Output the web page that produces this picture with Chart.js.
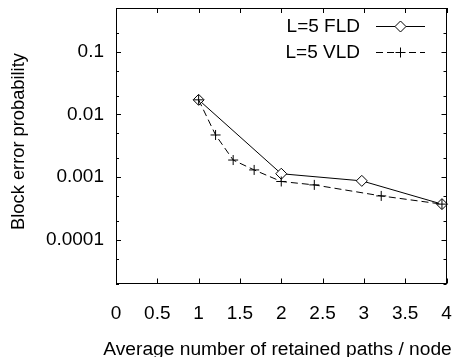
<!DOCTYPE html>
<html>
<head>
<meta charset="utf-8">
<script src="https://cdn.jsdelivr.net/npm/chart.js@4.4.1/dist/chart.umd.min.js"></script>
<style>
html,body{margin:0;padding:0;background:#fff;}
#wrap{width:453px;height:357px;position:relative;}
</style>
</head>
<body>
<div id="wrap"><canvas id="c" width="453" height="357"></canvas></div>
<script>
// ---- data ----
const fldX = [1.0, 2.0, 2.975, 3.945];
const fldY = [0.0171, 0.00113, 0.00087, 0.00037];
const vldX = [1.0, 1.205, 1.418, 1.672, 2.0, 2.40, 3.21, 3.945];
const vldY = [0.0171, 0.0047, 0.00187, 0.0013, 0.00085, 0.00075, 0.0005, 0.00037];
const seriesNames = ["L=5 FLD", "L=5 VLD"];
const xTickValues = [0, 0.5, 1, 1.5, 2, 2.5, 3, 3.5, 4];
const yTickValues = [0.0001, 0.001, 0.01, 0.1];
const yTickLabels = ["0.0001", "0.001", "0.01", "0.1"];
const yMinorTicks = [2e-5, 5e-5, 2e-4, 5e-4, 2e-3, 5e-3, 2e-2, 5e-2, 0.2, 0.5];
const xTitle = "Average number of retained paths / node";
const yTitle = "Block error probability";

const FONT = "'Liberation Sans', Arial, sans-serif";
const FS = 19;

const toPts = (xs, ys) => xs.map((x, i) => ({x: x, y: ys[i]}));

const framePlugin = {
  id: 'frame',
  afterDatasetsDraw(chart) {
    const ctx = chart.ctx, a = chart.chartArea;
    const xs = chart.scales.x, ys = chart.scales.y;
    ctx.save();
    ctx.strokeStyle = '#000';
    ctx.lineWidth = 1;
    ctx.strokeRect(Math.round(a.left) + 0.5, Math.round(a.top) + 0.5,
                   Math.round(a.right - a.left) - 1, Math.round(a.bottom - a.top) - 1);
    ctx.beginPath();
    xTickValues.forEach(v => {
      const px = Math.round(xs.getPixelForValue(v)) + 0.5;
      ctx.moveTo(px, a.bottom); ctx.lineTo(px, a.bottom - 5);
      ctx.moveTo(px, a.top); ctx.lineTo(px, a.top + 5);
    });
    yTickValues.forEach(v => {
      const py = Math.round(ys.getPixelForValue(v)) + 0.5;
      ctx.moveTo(a.left, py); ctx.lineTo(a.left + 5, py);
      ctx.moveTo(a.right, py); ctx.lineTo(a.right - 5, py);
    });
    yMinorTicks.forEach(v => {
      const py = Math.round(ys.getPixelForValue(v)) + 0.5;
      ctx.moveTo(a.left, py); ctx.lineTo(a.left + 3, py);
      ctx.moveTo(a.right, py); ctx.lineTo(a.right - 3, py);
    });
    ctx.stroke();

    // legend
    ctx.font = FS + 'px ' + FONT;
    ctx.textAlign = 'right';
    ctx.textBaseline = 'middle';
    const rows = [26, 52];
    chart.data.datasets.forEach((ds, i) => {
      const y = rows[i];
      ctx.fillStyle = '#000';
      ctx.fillText(ds.label, 360, y + 1);
      ctx.beginPath();
      ctx.setLineDash(ds.borderDash || []);
      ctx.moveTo(376, y + 0.5); ctx.lineTo(425, y + 0.5);
      ctx.stroke();
      ctx.setLineDash([]);
      ctx.fillStyle = ds.pointBackgroundColor;
      Chart.helpers.drawPoint(ctx, {pointStyle: ds.pointStyle, radius: ds.pointRadius, borderWidth: 1, rotation: 0}, 400.5, y + 0.5);
    });

    // axis titles
    ctx.fillStyle = '#000';
    ctx.textAlign = 'center';
    ctx.textBaseline = 'alphabetic';
    ctx.font = '19.2px ' + FONT;
    ctx.fillText(xTitle, 277.5, 354.5);
    ctx.translate(24, 141.5);
    ctx.rotate(-Math.PI / 2);
    ctx.font = '18.3px ' + FONT;
    ctx.fillText(yTitle, 0, 0);
    ctx.restore();
  }
};

new Chart(document.getElementById('c'), {
  type: 'scatter',
  data: {
    datasets: [
      {
        label: seriesNames[0],
        data: toPts(fldX, fldY),
        order: 2,
        showLine: true,
        borderColor: '#000',
        backgroundColor: '#fff',
        pointBackgroundColor: '#fff',
        borderWidth: 1,
        pointStyle: 'rectRot',
        pointRadius: 5.5,
        pointBorderWidth: 1,
        clip: false
      },
      {
        label: seriesNames[1],
        data: toPts(vldX, vldY),
        order: 1,
        showLine: true,
        borderColor: '#000',
        backgroundColor: 'rgba(0,0,0,0)',
        pointBackgroundColor: 'rgba(0,0,0,0)',
        borderWidth: 1,
        borderDash: [7, 4],
        pointStyle: 'cross',
        pointRadius: 5,
        pointBorderWidth: 1,
        clip: false
      }
    ]
  },
  options: {
    responsive: false,
    animation: false,
    devicePixelRatio: 1,
    layout: {padding: {left: 0, right: 6.5, top: 8, bottom: 0}},
    plugins: {legend: {display: false}, tooltip: {enabled: false}},
    scales: {
      x: {
        type: 'linear', min: 0, max: 4,
        afterBuildTicks: s => { s.ticks = xTickValues.map(v => ({value: v})); },
        afterFit: s => { s.height = 73.5; s.paddingLeft = 0; s.paddingRight = 0; },
        grid: {display: false, drawTicks: false},
        border: {display: false},
        ticks: {color: '#000', font: {family: FONT, size: FS}, padding: 19, maxRotation: 0,
                callback: v => String(v)},
        title: {display: false}
      },
      y: {
        type: 'logarithmic', min: 2e-5, max: 0.5,
        afterBuildTicks: s => { s.ticks = yTickValues.map(v => ({value: v})); },
        afterFit: s => { s.width = 116; s.paddingTop = 0; s.paddingBottom = 0; },
        grid: {display: false, drawTicks: false},
        border: {display: false},
        ticks: {color: '#000', font: {family: FONT, size: FS}, padding: 12,
                callback: (v) => { const i = yTickValues.indexOf(v); return i >= 0 ? yTickLabels[i] : ''; }},
        title: {display: false}
      }
    }
  },
  plugins: [framePlugin]
});
</script>
</body>
</html>
